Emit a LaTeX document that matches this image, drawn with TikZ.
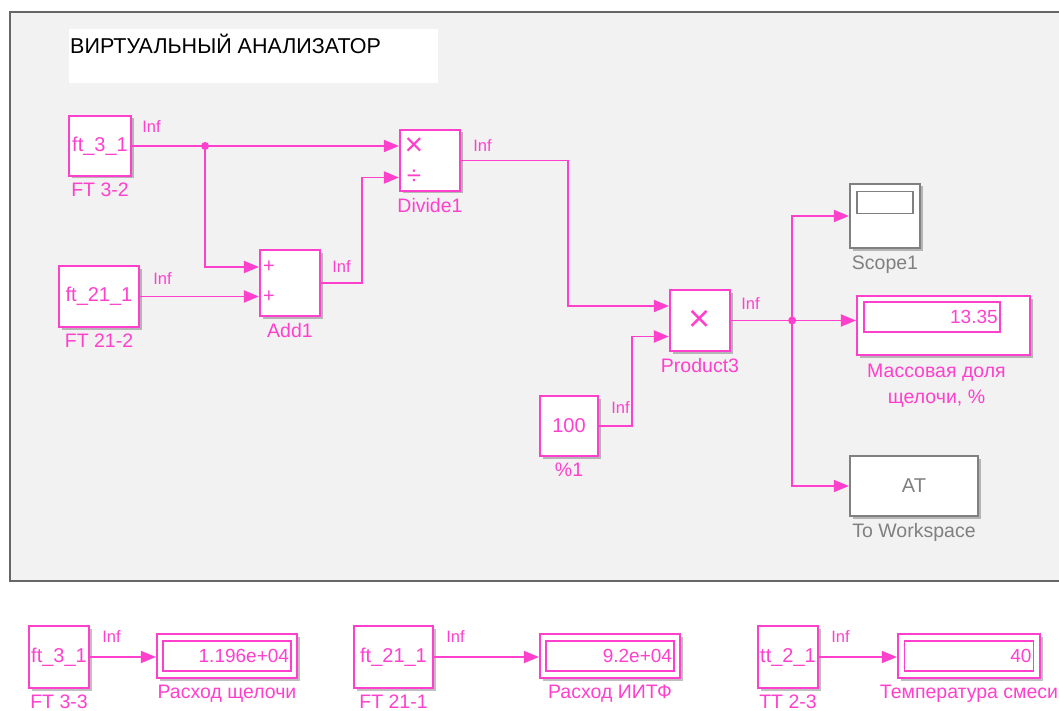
\documentclass[tikz,border=0pt]{standalone}
\usepackage{fontspec}
\setmainfont{Liberation Sans}
\usetikzlibrary{arrows.meta, calc, positioning, shadows}
\definecolor{sigpink}{RGB}{255,64,205}
\definecolor{blkgray}{RGB}{128,128,128}
\definecolor{areagray}{RGB}{242,242,242}
\tikzset{
  blk/.style={
    draw=sigpink,
    line width=2.2pt,
    fill=white,
    inner sep=0pt,
    text=sigpink,
    font=\fontsize{20}{22}\selectfont,
    drop shadow={shadow xshift=2.5pt, shadow yshift=-2.5pt, fill=black, opacity=0.25}
  },
  grayblk/.style={
    blk,
    draw=blkgray,
    text=blkgray
  },
  dispin/.style={
    draw=sigpink,
    line width=1.6pt,
    fill=white,
    inner sep=0pt,
    text=sigpink,
    align=right,
    font=\fontsize{19}{21}\selectfont
  },
  lbl/.style={
    text=sigpink,
    inner sep=1pt,
    align=center,
    font=\fontsize{19.5}{26}\selectfont
  },
  graylbl/.style={
    lbl,
    text=blkgray
  },
  inf/.style={
    text=sigpink,
    inner sep=0pt,
    anchor=base west,
    font=\fontsize{16.5}{18}\selectfont
  },
  port/.style={
    text=sigpink,
    inner sep=0pt,
    font=\fontsize{32}{34}\selectfont
  },
  sig/.style={
    draw=sigpink,
    line width=1.8pt,
    -{Triangle[length=15pt, width=12pt]}
  },
  wire/.style={
    draw=sigpink,
    line width=1.8pt
  },
  junction/.style={
    circle,
    fill=sigpink,
    inner sep=0pt,
    minimum size=8pt
  }
}

\begin{document}
\begin{tikzpicture}[x=1pt, y=-1pt]
    \useasboundingbox (0,0) rectangle (1059,711);

    % рабочая область анализатора
    \fill[areagray] (10,12) rectangle (1059,581);
    \draw[line width=2pt, black!60] (1059,12) -- (10,12) -- (10,581) -- (1059,581);
    \fill[white] (69,29) rectangle (438,83);
    \node[anchor=west, inner sep=0pt, font=\fontsize{21.5}{23}\selectfont] (title) at (70,44) {ВИРТУАЛЬНЫЙ АНАЛИЗАТОР};

    % блоки
    \node[blk, minimum width=62, minimum height=60] (ft31) at (100,146) {ft\_3\_1};
    \node[lbl, below=5pt of ft31] (ft31lbl) {FT 3-2};
    \node[blk, minimum width=80, minimum height=61] (ft211) at (99,296.5) {ft\_21\_1};
    \node[lbl, below=5pt of ft211] (ft211lbl) {FT 21-2};
    \node[blk, minimum width=60, minimum height=66] (add1) at (290,283) {};
    \node[lbl, below=5pt of add1] (add1lbl) {Add1};
    \node[blk, minimum width=60, minimum height=61] (div1) at (430,160.5) {};
    \node[lbl, below=5pt of div1] (div1lbl) {Divide1};
    \node[blk, minimum width=60, minimum height=61, font=\fontsize{38}{40}\selectfont] (prod3) at (700,320.5) {×};
    \node[lbl, below=5pt of prod3] (prod3lbl) {Product3};
    \node[blk, minimum width=58, minimum height=60] (c100) at (569,426) {100};
    \node[lbl, below=5pt of c100] (c100lbl) {\%1};

    % входы
    \node[port, font=\fontsize{20}{22}\selectfont] (add1p1) at ([xshift=10pt, yshift=16pt]add1.west) {+};
    \node[port, font=\fontsize{20}{22}\selectfont] (add1p2) at ([xshift=10pt, yshift=-14pt]add1.west) {+};
    \node[port] (div1p1) at ([xshift=15pt, yshift=14pt]div1.west) {×};
    \node[port, font=\fontsize{26}{28}\selectfont] (div1p2) at ([xshift=15pt, yshift=-17pt]div1.west) {÷};

    % приёмники
    \node[grayblk, minimum width=70, minimum height=64] (scope1) at (885,216) {};
    \node[draw=blkgray, line width=1.6pt, minimum width=56, minimum height=22, anchor=north] (scope1scr) at ([yshift=-8pt]scope1.north) {};
    \node[graylbl, below=6pt of scope1] (scope1lbl) {Scope1};
    \node[blk, minimum width=173, minimum height=59] (disp1) at (943.5,325.5) {};
    \node[dispin, text width=136, minimum height=30, anchor=north west] (disp1v) at ([shift={(7pt,-6pt)}]disp1.north west) {13.35\hspace*{2pt}};
    \node[lbl, below=7pt of disp1, xshift=-7pt] (disp1lbl) {Массовая доля\\щелочи, \%};
    \node[grayblk, minimum width=128, minimum height=60] (tows) at (914,486) {AT};
    \node[graylbl, below=5pt of tows] (towslbl) {To Workspace};

    % связи
    \coordinate (j1) at ($(ft31.east)+(73,0)$);
    \coordinate (j2) at ($(prod3.east)+(61,0)$);
    \draw[sig] (ft31.east) -- (div1.west |- ft31.east);
    \draw[sig] (j1) |- ([yshift=16pt]add1.west);
    \draw[sig] (ft211.east) -- (add1.west |- ft211.east);
    \draw[sig] (add1.east) -- ++(41,0) |- ([yshift=-17pt]div1.west);
    \draw[sig] (div1.east) -- ++(107,0) |- ([yshift=14.5pt]prod3.west);
    \draw[sig] (c100.east) -- ++(33,0) |- ([yshift=-16pt]prod3.west);
    \draw[wire] (prod3.east) -- (j2);
    \draw[sig] (j2) -- (disp1.west |- j2);
    \draw[sig] (j2) |- (scope1.west);
    \draw[sig] (j2) |- (tows.west);
    \node[junction] at (j1) {};
    \node[junction] at (j2) {};

    \node[inf] at ([xshift=10pt, yshift=13pt]ft31.east) {Inf};
    \node[inf] at ([xshift=13pt, yshift=12pt]ft211.east) {Inf};
    \node[inf] at ([xshift=11pt, yshift=11pt]add1.east) {Inf};
    \node[inf] at ([xshift=12pt, yshift=9pt]div1.east) {Inf};
    \node[inf] at ([xshift=10pt, yshift=11pt]prod3.east) {Inf};
    \node[inf] at ([xshift=12pt, yshift=13pt]c100.east) {Inf};

    % нижний ряд
    \node[blk, minimum width=60, minimum height=62] (ft33) at (59,657) {ft\_3\_1};
    \node[lbl, below=5pt of ft33] (ft33lbl) {FT 3-3};
    \node[blk, minimum width=140, minimum height=44] (dflow1) at (227,656) {};
    \node[dispin, text width=128, minimum height=30] (dflow1v) at (dflow1) {1.196e+04\hspace*{2pt}};
    \node[lbl, below=5pt of dflow1] (dflow1lbl) {Расход щелочи};
    \draw[sig] (ft33.east) -- (dflow1.west |- ft33.east);
    \node[inf] at ([xshift=12pt, yshift=15pt]ft33.east) {Inf};

    \node[blk, minimum width=79, minimum height=62] (ft212) at (393.5,657) {ft\_21\_1};
    \node[lbl, below=5pt of ft212] (ft212lbl) {FT 21-1};
    \node[blk, minimum width=140, minimum height=44] (dflow2) at (610,656) {};
    \node[dispin, text width=128, minimum height=30] (dflow2v) at (dflow2) {9.2e+04\hspace*{2pt}};
    \node[lbl, below=5pt of dflow2] (dflow2lbl) {Расход ИИТФ};
    \draw[sig] (ft212.east) -- (dflow2.west |- ft212.east);
    \node[inf] at ([xshift=12pt, yshift=15pt]ft212.east) {Inf};

    \node[blk, minimum width=60, minimum height=62] (tt23) at (788,657) {tt\_2\_1};
    \node[lbl, below=5pt of tt23] (tt23lbl) {TT 2-3};
    \node[blk, minimum width=142, minimum height=44] (dtemp) at (969,656) {};
    \node[dispin, text width=129, minimum height=30] (dtempv) at (dtemp) {40\hspace*{2pt}};
    \node[lbl, below=5pt of dtemp] (dtemplbl) {Температура смеси};
    \draw[sig] (tt23.east) -- (dtemp.west |- tt23.east);
    \node[inf] at ([xshift=12pt, yshift=15pt]tt23.east) {Inf};

  \end{tikzpicture}
\end{document}
